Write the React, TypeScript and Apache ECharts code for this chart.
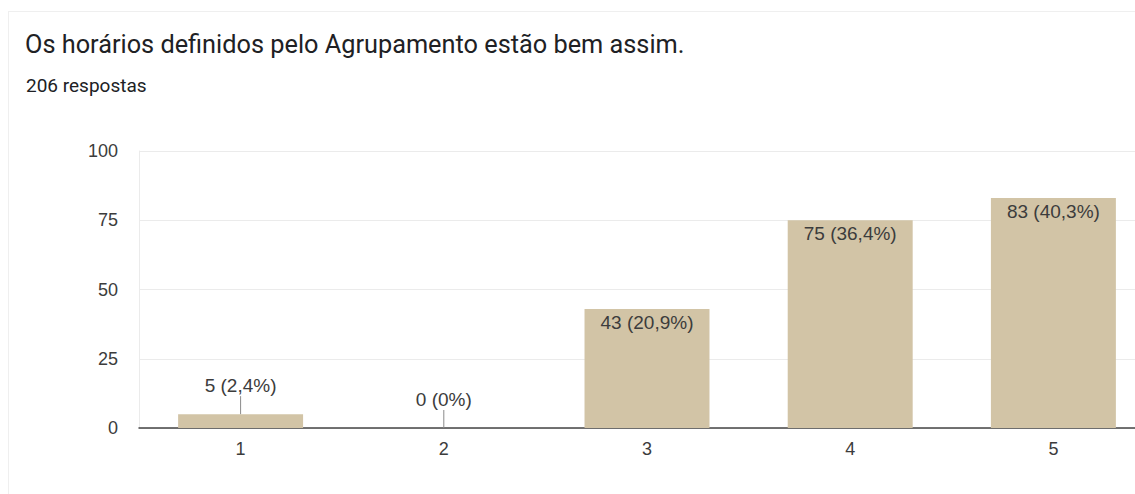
import React, { useEffect, useRef } from "react";
import * as echarts from "echarts";

const titleText = "Os horários definidos pelo Agrupamento estão bem assim.";
const subtitleText = "206 respostas";
const categories = ["1", "2", "3", "4", "5"];
const counts = [5, 0, 43, 75, 83];
const percents = ["2,4%", "0%", "20,9%", "36,4%", "40,3%"];
const yTicks = [0, 25, 50, 75, 100];
const insideThreshold = 20;

export default function App() {
  const ref = useRef<HTMLDivElement>(null);
  useEffect(() => {
    if (!ref.current) return;
    const chart = echarts.init(ref.current, undefined, { renderer: "svg" });
    const barData = counts.map((v, i) => {
      const inside = v >= insideThreshold;
      return {
        value: v,
        label: {
          show: true,
          position: inside ? "insideTop" : "top",
          distance: inside ? 4 : 19,
          formatter: `${v} (${percents[i]})`,
          fontFamily: "Arial, 'Liberation Sans', sans-serif",
          fontSize: 19,
          color: "#3c3c3c",
        },
      };
    });
    const leaderData = counts
      .map((v, i) => [i, v])
      .filter((d) => d[1] < insideThreshold);
    chart.setOption({
      animation: false,
      backgroundColor: "transparent",
      title: [
        {
          text: titleText,
          left: 20,
          top: 27,
          textStyle: {
            fontFamily: "Roboto, sans-serif",
            fontSize: 25.3,
            fontWeight: "normal",
            color: "#202124",
          },
        },
        {
          text: subtitleText,
          left: 21,
          top: 71,
          textStyle: {
            fontFamily: "Roboto, sans-serif",
            fontSize: 19,
            fontWeight: "normal",
            color: "#202124",
          },
        },
      ],
      grid: { left: 139, right: 0, top: 151, bottom: 66, containLabel: false },
      xAxis: {
        type: "category",
        data: categories,
        axisLine: { show: true, lineStyle: { color: "#444", width: 1.5 } },
        axisTick: { show: false },
        axisLabel: {
          margin: 12,
          fontFamily: "Arial, 'Liberation Sans', sans-serif",
          fontSize: 18,
          color: "#3c3c3c",
        },
      },
      yAxis: {
        type: "value",
        min: yTicks[0],
        max: yTicks[yTicks.length - 1],
        interval: 25,
        axisLine: { show: true, lineStyle: { color: "#ebebeb" } },
        axisTick: { show: false },
        splitLine: { lineStyle: { color: "#ebebeb" } },
        axisLabel: {
          margin: 21,
          fontFamily: "Arial, 'Liberation Sans', sans-serif",
          fontSize: 18,
          color: "#3c3c3c",
        },
      },
      series: [
        {
          type: "bar",
          data: barData,
          barWidth: "61.5%",
          itemStyle: { color: "#d2c4a6" },
          z: 2,
        },
        {
          type: "custom",
          data: leaderData,
          z: 3,
          renderItem: (params: any, api: any) => {
            const p = api.coord([api.value(0), api.value(1)]);
            return {
              type: "line",
              shape: { x1: p[0], y1: p[1], x2: p[0], y2: p[1] - 18 },
              style: { stroke: "#8a8a8a", lineWidth: 1 },
            };
          },
        },
      ],
    });
    return () => chart.dispose();
  }, []);
  return (
    <div
      style={{
        position: "fixed",
        left: 0,
        top: 0,
        width: 1135,
        height: 494,
        overflow: "hidden",
        background: "#ffffff",
      }}
    >
      <div
        style={{
          position: "absolute",
          left: 8,
          top: 11,
          width: 1200,
          height: 600,
          border: "1px solid #efefef",
          boxSizing: "border-box",
        }}
      />
      <div
        ref={ref}
        style={{ position: "absolute", left: 0, top: 0, width: 1155, height: 494 }}
      />
    </div>
  );
}
